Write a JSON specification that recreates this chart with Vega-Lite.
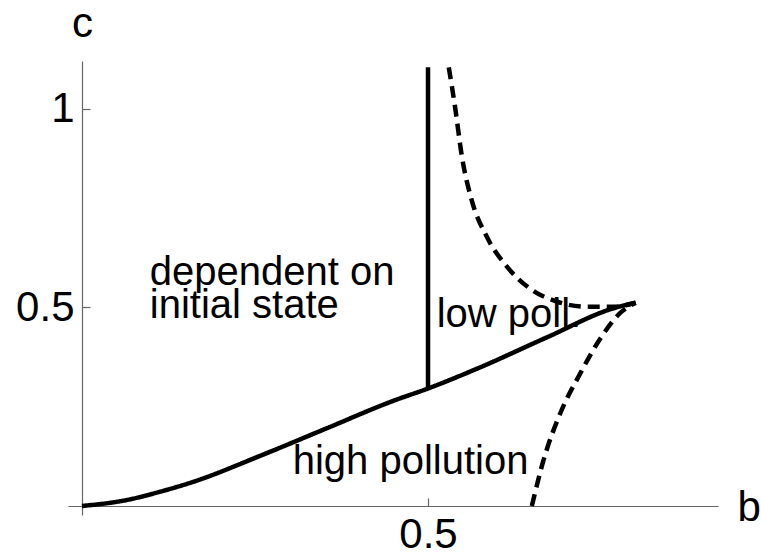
{
  "$schema": "https://vega.github.io/schema/vega-lite/v6.json",
  "width": 650,
  "height": 454,
  "autosize": "none",
  "padding": {"left": 68, "top": 61, "right": 43, "bottom": 38},
  "background": "white",
  "config": {
    "view": {"stroke": null},
    "font": "Liberation Sans",
    "axis": {"labelFont": "Liberation Sans", "titleFont": "Liberation Sans", "grid": false}
  },
  "datasets": {
    "curves": [
      {"series": "boundary", "style": "solid", "order": 0, "b": 0.0, "c": 0.0},
      {"series": "boundary", "style": "solid", "order": 1, "b": 0.0645, "c": 0.015},
      {"series": "boundary", "style": "solid", "order": 2, "b": 0.113, "c": 0.036},
      {"series": "boundary", "style": "solid", "order": 3, "b": 0.161, "c": 0.061},
      {"series": "boundary", "style": "solid", "order": 4, "b": 0.257, "c": 0.126},
      {"series": "boundary", "style": "solid", "order": 5, "b": 0.354, "c": 0.196},
      {"series": "boundary", "style": "solid", "order": 6, "b": 0.45, "c": 0.265},
      {"series": "boundary", "style": "solid", "order": 7, "b": 0.5, "c": 0.296},
      {"series": "boundary", "style": "solid", "order": 8, "b": 0.575, "c": 0.349},
      {"series": "boundary", "style": "solid", "order": 9, "b": 0.672, "c": 0.425},
      {"series": "boundary", "style": "solid", "order": 10, "b": 0.768, "c": 0.498},
      {"series": "boundary", "style": "solid", "order": 11, "b": 0.8, "c": 0.512},
      {"series": "upper", "style": "dashed", "order": 0, "b": 0.53, "c": 1.105},
      {"series": "upper", "style": "dashed", "order": 1, "b": 0.539, "c": 1.006},
      {"series": "upper", "style": "dashed", "order": 2, "b": 0.549, "c": 0.88},
      {"series": "upper", "style": "dashed", "order": 3, "b": 0.563, "c": 0.771},
      {"series": "upper", "style": "dashed", "order": 4, "b": 0.585, "c": 0.678},
      {"series": "upper", "style": "dashed", "order": 5, "b": 0.614, "c": 0.603},
      {"series": "upper", "style": "dashed", "order": 6, "b": 0.647, "c": 0.548},
      {"series": "upper", "style": "dashed", "order": 7, "b": 0.686, "c": 0.515},
      {"series": "upper", "style": "dashed", "order": 8, "b": 0.729, "c": 0.502},
      {"series": "upper", "style": "dashed", "order": 9, "b": 0.768, "c": 0.502},
      {"series": "upper", "style": "dashed", "order": 10, "b": 0.8, "c": 0.512},
      {"series": "lower", "style": "dashed", "order": 0, "b": 0.65, "c": 0.0},
      {"series": "lower", "style": "dashed", "order": 1, "b": 0.667, "c": 0.116},
      {"series": "lower", "style": "dashed", "order": 2, "b": 0.691, "c": 0.233},
      {"series": "lower", "style": "dashed", "order": 3, "b": 0.72, "c": 0.334},
      {"series": "lower", "style": "dashed", "order": 4, "b": 0.749, "c": 0.422},
      {"series": "lower", "style": "dashed", "order": 5, "b": 0.777, "c": 0.485},
      {"series": "lower", "style": "dashed", "order": 6, "b": 0.8, "c": 0.512}
    ],
    "vertical": [
      {"b": 0.5, "c": 0.296, "c2": 1.105}
    ],
    "labels": [
      {"text": "dependent on", "b": 0.098, "c": 0.557},
      {"text": "initial state", "b": 0.098, "c": 0.4736},
      {"text": "low poll.", "b": 0.5125, "c": 0.452},
      {"text": "high pollution", "b": 0.3044, "c": 0.08}
    ]
  },
  "encoding": {
    "x": {
      "field": "b",
      "type": "quantitative",
      "scale": {"domain": [-0.0202, 0.919], "nice": false, "zero": false},
      "axis": {
        "orient": "bottom",
        "offset": -9,
        "values": [0.5],
        "format": "~g",
        "domainColor": "#666666",
        "domainWidth": 1.2,
        "tickColor": "#666666",
        "tickWidth": 1.2,
        "tickSize": -8,
        "labelFontSize": 42,
        "labelColor": "black",
        "labelPadding": 16,
        "labelFlush": false,
        "labelOverlap": false,
        "title": "b",
        "titleFontSize": 42,
        "titleFontWeight": "normal",
        "titleColor": "black",
        "titleAngle": 0,
        "titleAlign": "left",
        "titleBaseline": "alphabetic",
        "titleX": 669,
        "titleY": 14
      }
    },
    "y": {
      "field": "c",
      "type": "quantitative",
      "scale": {"domain": [-0.0227, 1.1209], "nice": false, "zero": false},
      "axis": {
        "orient": "left",
        "offset": -14,
        "values": [0.5, 1],
        "format": "~g",
        "domainColor": "#666666",
        "domainWidth": 1.2,
        "tickColor": "#666666",
        "tickWidth": 1.2,
        "tickSize": -8,
        "labelFontSize": 42,
        "labelColor": "black",
        "labelPadding": 16,
        "labelFlush": false,
        "labelOverlap": false,
        "title": "c",
        "titleFontSize": 42,
        "titleFontWeight": "normal",
        "titleColor": "black",
        "titleAngle": 0,
        "titleAlign": "center",
        "titleBaseline": "alphabetic",
        "titleX": 0,
        "titleY": -25
      }
    }
  },
  "layer": [
    {
      "data": {"name": "curves"},
      "mark": {"type": "line", "color": "black", "strokeWidth": 4.5, "interpolate": "monotone", "strokeCap": "butt"},
      "encoding": {
        "detail": {"field": "series", "type": "nominal"},
        "order": {"field": "order", "type": "quantitative"},
        "strokeDash": {
          "field": "style",
          "type": "nominal",
          "scale": {"domain": ["solid", "dashed"], "range": [[1, 0], [12, 7]]},
          "legend": null
        }
      }
    },
    {
      "data": {"name": "vertical"},
      "mark": {"type": "rule", "color": "black", "strokeWidth": 4.5},
      "encoding": {
        "y2": {"field": "c2"}
      }
    },
    {
      "data": {"name": "labels"},
      "mark": {"type": "text", "font": "Liberation Sans", "fontSize": 40, "align": "left", "baseline": "alphabetic", "color": "black"},
      "encoding": {
        "text": {"field": "text", "type": "nominal"}
      }
    }
  ]
}
